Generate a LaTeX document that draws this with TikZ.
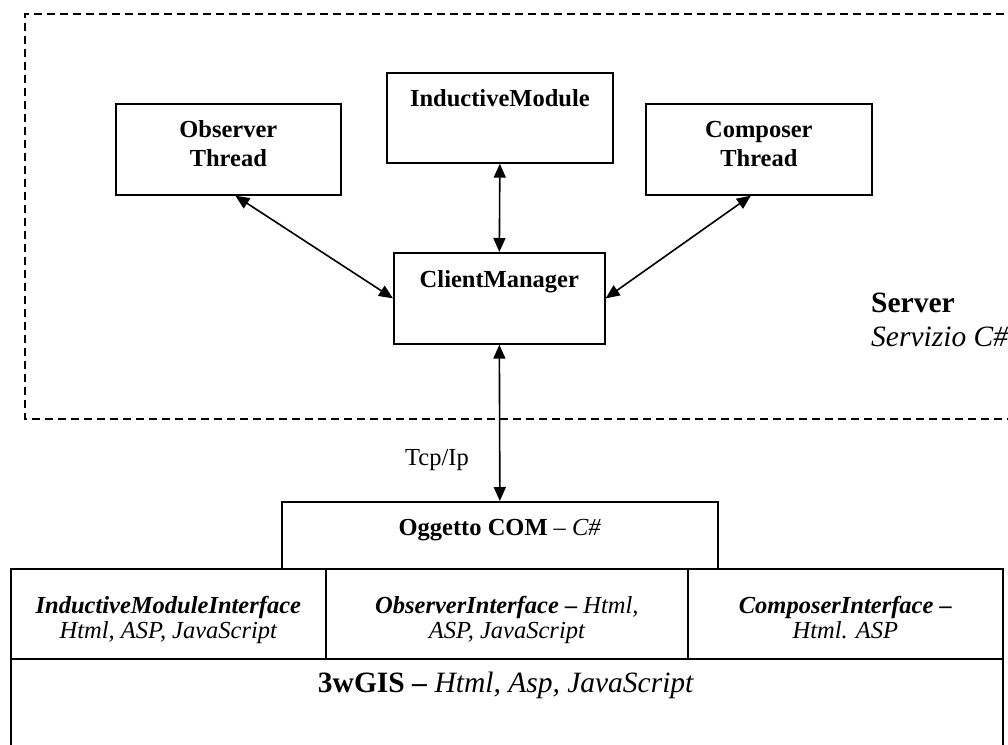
\documentclass[tikz,border=0pt]{standalone}
\usepackage{fontspec}
\setmainfont{Liberation Serif}
\usetikzlibrary{arrows.meta,calc}
\begin{document}
\begin{tikzpicture}[x=1pt,y=-1pt,
  box/.style={draw, line width=1.7pt, inner sep=0pt, anchor=north west},
  lbl/.style={anchor=base, inner sep=0pt, font=\fontsize{24.5}{29}\selectfont},
  big/.style={anchor=base, inner sep=0pt, font=\fontsize{29.5}{34}\selectfont},
  conn/.style={line width=1.6pt, {Triangle[length=14pt,width=12pt]}-{Triangle[length=14pt,width=12pt]}},
  servbox/.style={line width=2pt, dash pattern=on 8pt off 5pt}
]
\useasboundingbox (0,0) rectangle (1008,744);
\clip (0,0) rectangle (1008,744);

% server dashed region
\draw[servbox] (1030,14) -| (25,419) -- (1030,419);

% server boxes
\node[box, minimum width=225pt, minimum height=91pt] (obs) at (115,103) {};
\node[box, minimum width=226pt, minimum height=90pt] (im) at (386,72) {};
\node[box, minimum width=226pt, minimum height=91pt] (comp) at (645,103) {};
\node[box, minimum width=211pt, minimum height=91pt] (cm) at (393,252) {};

\node[lbl] (obst1) at ($(obs.north)+(0,34)$) {\bfseries Observer};
\node[lbl] (obst2) at ($(obs.north)+(0,63)$) {\bfseries Thread};
\node[lbl] (imt) at ($(im.north)+(0,34)$) {\bfseries InductiveModule};
\node[lbl] (compt1) at ($(comp.north)+(0,34)$) {\bfseries Composer};
\node[lbl] (compt2) at ($(comp.north)+(0,63)$) {\bfseries Thread};
\node[lbl] (cmt) at ($(cm.north)+(0,35)$) {\bfseries ClientManager};

\node[big, anchor=base west] (srv) at (871,312) {\bfseries Server};
\node[big, anchor=base west] (srv2) at (871,346) {\itshape Servizio C\#};

% client side
\node[box, minimum width=436pt, minimum height=67pt] (og) at (281,501) {};
\node[lbl] (ogt) at ($(og.north)+(0,34)$) {\textbf{Oggetto COM} -- \textit{C\#}};

\node[box, minimum width=315pt, minimum height=90pt] (imi) at (10,568) {};
\node[box, minimum width=362pt, minimum height=90pt] (oi) at (325,568) {};
\node[box, minimum width=315pt, minimum height=90pt] (ci) at (687,568) {};

\node[lbl] (imi1) at ($(imi.north)+(0,45)$) {\bfseries\itshape InductiveModuleInterface};
\node[lbl] (imi2) at ($(imi.north)+(0,70)$) {\itshape Html, ASP, JavaScript};
\node[lbl] (oi1) at ($(oi.north)+(0,45)$) {\textbf{\textit{ObserverInterface --}} \textit{Html,}};
\node[lbl] (oi2) at ($(oi.north)+(0,70)$) {\itshape ASP, JavaScript};
\node[lbl] (ci1) at ($(ci.north)+(0,45)$) {\bfseries\itshape ComposerInterface --};
\node[lbl] (ci2) at ($(ci.north)+(0,70)$) {\itshape Html. ASP};

\node[box, minimum width=992pt, minimum height=110pt] (gis) at (10,658) {};
\node[big] (gist) at (506,692) {\textbf{3wGIS --} \textit{Html, Asp, JavaScript}};

% connectors
\draw[conn] ([xshift=7pt]obs.south) -- (cm.west);
\draw[conn] (im.south) -- (cm.north);
\draw[conn] ([xshift=-8pt]comp.south) -- (cm.east);
\draw[conn] (cm.south) -- (og.north);
\node[lbl] (tcp) at (437,465) {Tcp/Ip};
\end{tikzpicture}
\end{document}
